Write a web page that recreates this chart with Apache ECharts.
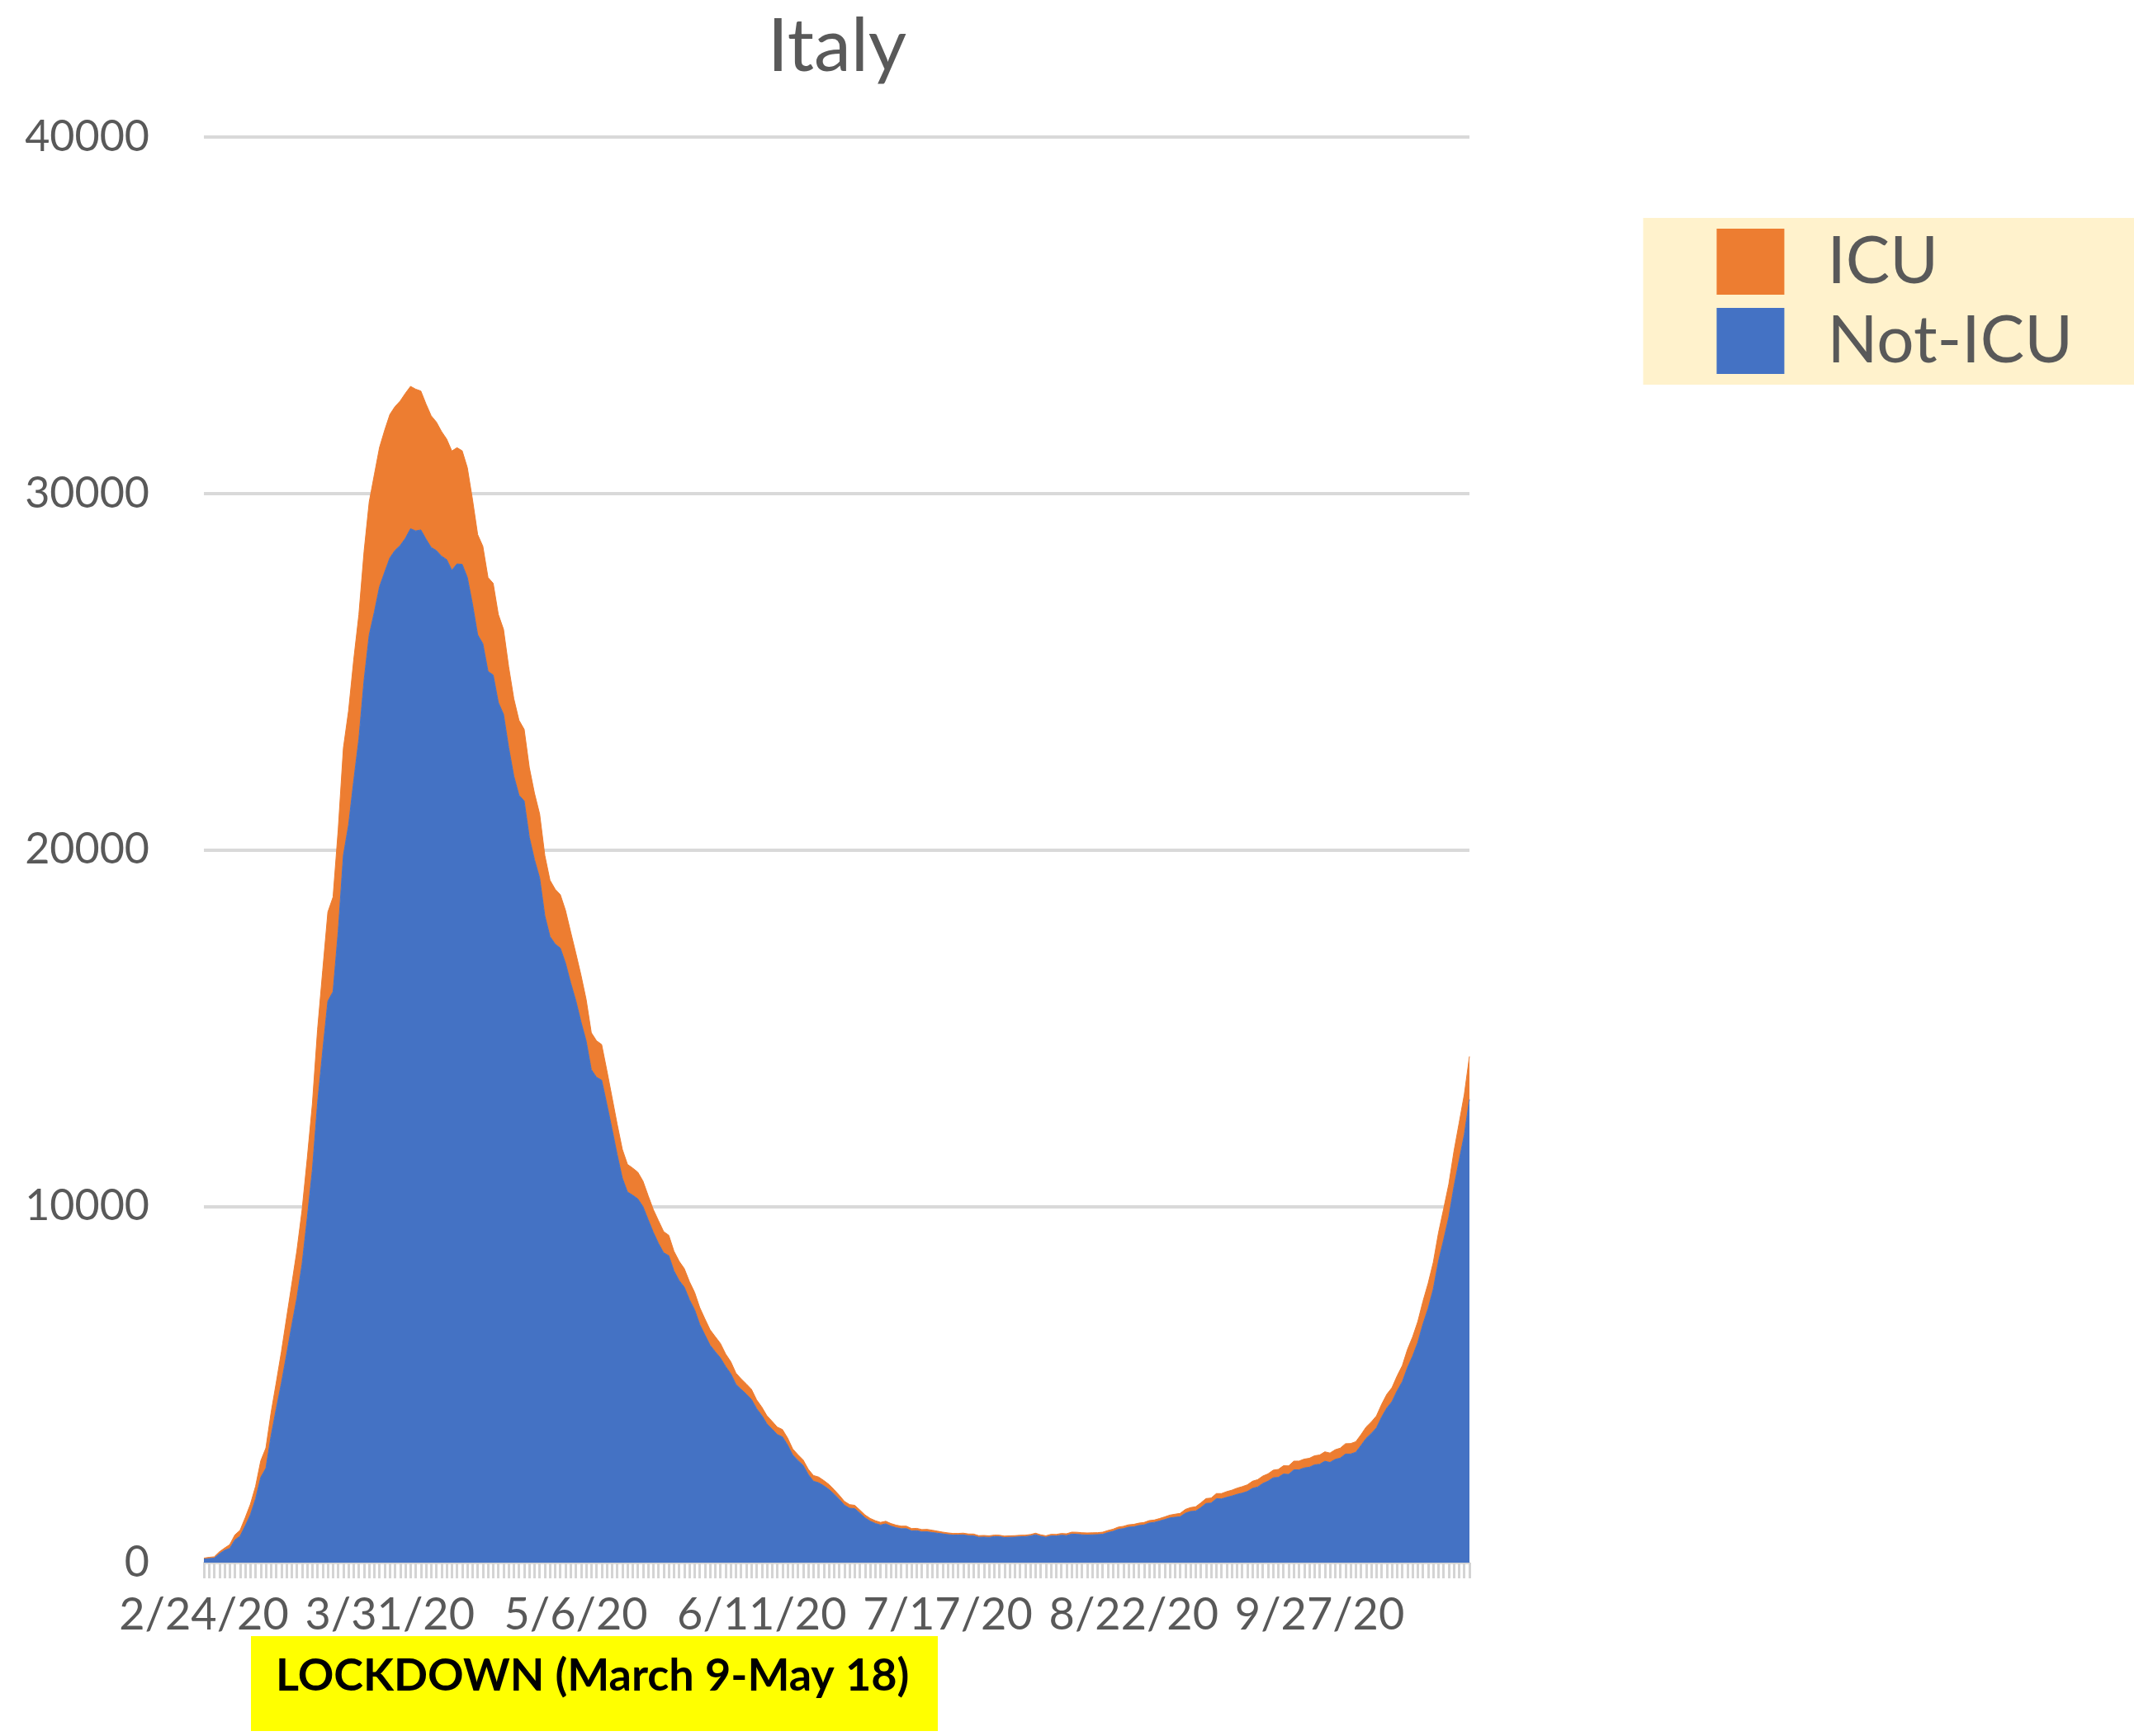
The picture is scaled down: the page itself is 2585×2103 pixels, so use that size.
<!DOCTYPE html>
<html>
<head>
<meta charset="utf-8">
<title>Italy – hospitalised COVID-19 patients</title>
<script src="https://cdn.jsdelivr.net/npm/echarts@6/dist/echarts.min.js"></script>
<style>
  html, body { margin: 0; padding: 0; background: #ffffff; }
  #chart { width: 2585px; height: 2103px; }
</style>
</head>
<body>
<div id="chart"></div>
<script>
// Daily series, 24 Feb 2020 – 26 Oct 2020
const startDate = new Date(2020, 1, 24);
const dayCount = 246;

// Patients in hospital outside intensive care
const notIcu = [
  101,114,128,248,345,401,
  639,742,1034,1346,1790,2394,2651,3557,4316,5038,5838,6650,7426,8372,9663,11025,12894,14363,15757,16020,17708,19846,20692,21937,23112,24753,26029,26676,27386,27795,28192,
  28403,28540,28741,29010,28949,28976,28718,28485,28399,28242,28144,27847,28023,28011,27643,26893,26033,25786,25007,24906,24134,23805,22871,22068,21533,21372,20353,19723,19210,18149,
  17569,17357,17242,16823,16270,15769,15174,14636,13834,13618,13539,12865,12172,11453,10792,10400,10311,10207,9991,9624,9269,8957,8695,8613,8185,7917,7729,7379,7094,6680,6387,
  6099,5916,5742,5503,5301,5002,4864,4729,4581,4320,4131,3893,3747,3594,3529,3301,3020,2867,2731,2474,2285,2242,2157,2054,1922,1777,1613,1526,1515,1389,
  1255,1163,1099,1056,1090,1026,982,953,954,892,898,865,866,846,827,808,788,774,776,779,757,754,713,718,709,732,730,705,713,716,727,
  731,749,784,740,712,750,749,772,761,801,797,782,776,782,787,797,843,879,935,955,996,1006,1041,1058,1111,1131,1169,1210,1255,1274,1289,
  1387,1436,1449,1544,1662,1671,1795,1789,1833,1870,1916,1951,1997,2084,2122,2222,2285,2380,2395,2487,2476,2604,2604,2658,2677,2745,2760,2846,2812,2897,
  2934,3047,3048,3097,3287,3487,3625,3782,4086,4336,4519,4821,5076,5470,5796,6178,6695,7131,7676,8454,9057,9694,10549,11287,12006,12997
];

// Patients in intensive care
const icu = [
  26,35,36,56,64,105,
  140,166,229,295,351,462,567,650,733,877,1028,1153,1328,1518,1672,1851,2060,2257,2498,2655,2857,3009,3204,3396,3489,3612,3732,3856,3906,3981,4023,
  4035,4053,4068,3994,3977,3898,3792,3693,3605,3497,3381,3343,3260,3186,3079,2936,2812,2733,2635,2573,2471,2384,2267,2173,2102,2009,1956,1863,1795,1694,
  1578,1539,1501,1479,1427,1333,1311,1168,1034,1027,999,952,893,855,808,775,762,749,716,676,640,640,595,572,553,541,521,505,489,475,450,
  435,424,408,353,338,316,293,287,283,249,236,227,220,209,207,197,168,163,152,148,161,161,149,141,127,115,107,103,94,87,
  82,79,77,74,71,72,71,71,69,65,64,64,67,64,57,49,48,46,44,49,48,49,45,45,44,41,40,40,41,42,41,
  40,41,42,41,42,45,43,47,49,55,56,58,58,56,55,58,58,60,63,65,66,69,68,69,69,66,69,74,79,86,94,
  107,109,120,133,136,142,143,150,160,164,174,182,187,201,207,208,207,215,222,233,239,244,246,247,251,254,260,264,264,271,
  280,291,294,297,303,319,323,337,358,387,390,420,452,514,539,586,638,705,750,797,870,926,992,1049,1128,1208
];

// Category labels in M/D/YY form
const dates = [];
for (let i = 0; i < dayCount; i++) {
  const d = new Date(startDate.getFullYear(), startDate.getMonth(), startDate.getDate() + i);
  dates.push((d.getMonth() + 1) + '/' + d.getDate() + '/' + String(d.getFullYear()).slice(2));
}

const yTicks = [0, 10000, 20000, 30000, 40000];
const legendNames = ['ICU', 'Not-ICU'];
const chartTitle = 'Italy';
const noteText = 'LOCKDOWN (March 9-May 18)';

const BLUE = '#4472C4';
const ORANGE = '#ED7D31';
const TEXT = '#595959';
const FONT = 'Lato';

const chart = echarts.init(document.getElementById('chart'), null, { renderer: 'canvas' });

chart.setOption({
  animation: false,
  backgroundColor: '#ffffff',
  textStyle: { fontFamily: FONT },
  title: {
    text: chartTitle,
    left: 1014,
    textAlign: 'center',
    top: 12,
    padding: 0,
    textStyle: { fontFamily: FONT, fontSize: 90, fontWeight: 'normal', color: TEXT }
  },
  legend: {
    data: legendNames,
    orient: 'vertical',
    right: 0,
    top: 264,
    icon: 'rect',
    itemWidth: 82,
    itemHeight: 80,
    itemGap: 16,
    padding: [13, 74, 13, 89],
    backgroundColor: '#FFF2CC',
    selectedMode: false,
    textStyle: {
      fontFamily: FONT,
      fontSize: 80,
      color: TEXT,
      lineHeight: 80,
      padding: [0, 0, 0, 47]
    }
  },
  grid: {
    left: 247,
    right: 805,
    top: 166,
    bottom: 210,
    containLabel: false
  },
  xAxis: {
    type: 'category',
    data: dates,
    boundaryGap: false,
    axisLine: { show: true, lineStyle: { color: '#d9d9d9', width: 2 } },
    axisTick: {
      show: true,
      interval: 0,
      length: 19,
      lineStyle: { color: '#d4d4d4', width: 3 }
    },
    axisLabel: {
      interval: 35,
      margin: 37,
      fontFamily: FONT,
      fontSize: 54,
      color: TEXT
    },
    splitLine: { show: false }
  },
  yAxis: {
    type: 'value',
    min: yTicks[0],
    max: yTicks[yTicks.length - 1],
    interval: yTicks[1] - yTicks[0],
    axisLine: { show: false },
    axisTick: { show: false },
    axisLabel: {
      margin: 66,
      fontFamily: FONT,
      fontSize: 52,
      color: TEXT,
      formatter: v => String(v)
    },
    splitLine: { lineStyle: { color: '#d9d9d9', width: 4 } }
  },
  series: [
    {
      name: 'Not-ICU',
      type: 'line',
      stack: 'patients',
      data: notIcu,
      showSymbol: false,
      symbol: 'none',
      lineStyle: { width: 1, color: BLUE },
      itemStyle: { color: BLUE },
      areaStyle: { color: BLUE, opacity: 1 },
      z: 3
    },
    {
      name: 'ICU',
      type: 'line',
      stack: 'patients',
      data: icu,
      showSymbol: false,
      symbol: 'none',
      lineStyle: { width: 1, color: ORANGE },
      itemStyle: { color: ORANGE },
      areaStyle: { color: ORANGE, opacity: 1 },
      z: 2
    }
  ],
  graphic: [
    {
      type: 'rect',
      left: 304,
      top: 1982,
      shape: { width: 832, height: 115 },
      style: { fill: '#FFFF00' },
      z: 10
    },
    {
      type: 'text',
      left: 334,
      top: 2004,
      style: {
        text: noteText,
        fontFamily: FONT,
        fontSize: 54,
        fontWeight: 'bold',
        fill: '#000000'
      },
      z: 11
    }
  ]
});
</script>
</body>
</html>
